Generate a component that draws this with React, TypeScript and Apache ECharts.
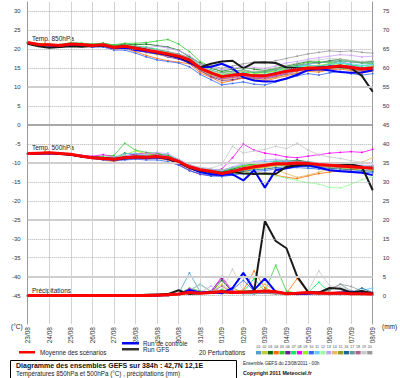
import React, { useEffect, useRef } from 'react';
import * as echarts from 'echarts';

const HOURS = [0, 12, 24, 36, 48, 60, 72, 84, 96, 108, 120, 132, 144, 156, 168, 180, 192, 204, 216, 228, 240, 252, 264, 276, 288, 300, 312, 324, 336, 348, 360, 372, 384];
const DATES = ['23/08', '24/08', '25/08', '26/08', '27/08', '28/08', '29/08', '30/08', '31/08', '01/09', '02/09', '03/09', '04/09', '05/09', '06/09', '07/09', '08/09'];
const LEFT_TICKS = [-45, -40, -35, -30, -25, -20, -15, -10, -5, 0, 5, 10, 15, 20, 25, 30];
const RIGHT_TICKS = [0, 5, 10, 15, 20, 25, 30, 35, 40, 45, 50, 55, 60, 65, 70, 75];
const DOTTED_LINES = [30, 25, 20, 15, 5, -5, -15, -20, -30, -35, -45];
const SOLID_LINES = [10, -10, -25, -40];
const DARK_LINES = [0];
const PERT_LABELS = ['01', '02', '03', '04', '05', '06', '07', '08', '09', '10', '11', '12', '13', '14', '15', '16', '17', '18', '19', '20'];
const PERT_COLORS = ['#4f9fc8', '#c8c830', '#0a6a0a', '#ff6a00', '#33cc33', '#6a1a90', '#00ee66', '#ff00ff', '#99ee22', '#3366ff', '#66ccff', '#99ff99', '#c8a0ff', '#e8b860', '#9a9a20', '#10689a', '#669999', '#b06090', '#c8c8c8', '#999999'];

// Temperature 850 hPa (°C)
const MEAN_850 = [21.8, 21.3, 21.2, 21.0, 21.4, 21.3, 21.0, 21.2, 20.5, 20.8, 20.3, 19.8, 19.3, 18.8, 18.2, 17.2, 15.0, 13.8, 12.8, 13.2, 13.4, 13.0, 13.0, 13.6, 14.2, 14.6, 15.1, 15.0, 15.3, 15.6, 15.2, 14.8, 15.1];
const GFS_850 = [21.5, 20.8, 20.4, 20.6, 20.8, 20.7, 20.9, 21.0, 20.6, 20.8, 20.4, 19.9, 19.2, 18.6, 18.0, 16.8, 15.3, 16.2, 16.8, 17.0, 15.0, 16.5, 16.6, 16.4, 15.2, 15.0, 15.0, 15.2, 15.4, 15.3, 15.0, 13.0, 8.8];
const CTRL_850 = [21.6, 21.2, 21.0, 20.9, 21.2, 21.1, 20.8, 21.0, 20.3, 20.4, 19.8, 19.5, 19.0, 18.5, 17.8, 16.5, 15.2, 15.4, 16.2, 15.0, 12.6, 11.8, 11.5, 11.6, 12.3, 13.3, 14.5, 14.8, 14.4, 14.0, 13.8, 13.9, 14.5];
const P850_01 = [21.8, 21.4, 21.0, 21.2, 21.6, 21.0, 20.8, 21.4, 20.2, 21.0, 20.6, 20.4, 19.8, 19.0, 18.8, 17.6, 15.8, 14.2, 13.0, 14.0, 14.6, 13.8, 12.6, 13.2, 14.8, 15.6, 16.0, 15.4, 16.2, 16.8, 16.0, 15.2, 15.6];
const P850_02 = [21.7, 21.2, 21.4, 20.8, 21.2, 21.6, 21.2, 20.8, 20.8, 21.2, 20.0, 19.2, 18.6, 18.4, 17.6, 16.8, 14.2, 13.2, 12.4, 12.8, 13.0, 12.2, 12.6, 13.8, 14.0, 14.2, 15.4, 15.8, 15.0, 15.2, 14.6, 14.2, 14.8];
const P850_03 = [21.9, 21.3, 21.1, 21.3, 21.5, 21.4, 21.3, 21.6, 21.0, 21.4, 21.2, 21.4, 21.0, 20.6, 19.8, 18.0, 16.4, 15.0, 14.2, 14.8, 15.2, 14.8, 14.4, 15.0, 15.6, 16.2, 16.8, 16.4, 17.0, 17.4, 17.0, 16.6, 16.8];
const P850_04 = [21.8, 21.0, 20.9, 20.7, 21.0, 20.9, 20.6, 20.8, 20.0, 20.2, 19.4, 18.4, 17.6, 17.0, 16.6, 16.2, 13.8, 12.6, 11.2, 11.8, 12.4, 12.0, 11.6, 12.4, 13.0, 13.8, 14.2, 14.0, 14.6, 14.8, 14.4, 13.8, 14.2];
const P850_05 = [21.8, 21.5, 21.4, 21.2, 21.8, 21.6, 21.4, 21.6, 21.2, 21.6, 21.6, 21.8, 22.2, 22.6, 21.4, 19.4, 16.8, 15.4, 14.0, 14.2, 14.6, 14.0, 14.2, 14.8, 15.4, 15.8, 16.6, 16.8, 16.4, 17.0, 16.8, 16.4, 16.2];
const P850_06 = [21.7, 21.2, 21.0, 20.6, 21.2, 21.2, 20.7, 20.9, 20.1, 20.4, 19.8, 19.2, 18.8, 18.0, 17.4, 16.4, 14.4, 12.8, 11.8, 12.0, 12.6, 12.4, 12.0, 12.8, 13.4, 13.6, 14.6, 14.4, 15.0, 15.4, 14.8, 14.4, 14.6];
const P850_07 = [21.8, 21.4, 21.3, 21.1, 21.6, 21.6, 21.2, 21.4, 20.6, 21.0, 20.8, 20.6, 20.0, 19.4, 18.6, 17.8, 15.6, 14.6, 13.6, 13.4, 13.8, 14.0, 13.8, 14.4, 15.0, 15.4, 15.8, 15.6, 16.0, 16.4, 15.8, 15.6, 16.0];
const P850_08 = [21.8, 21.2, 21.2, 21.0, 21.2, 21.0, 20.8, 21.0, 20.4, 20.6, 20.2, 19.4, 19.0, 18.6, 18.0, 17.0, 14.8, 13.6, 12.2, 12.6, 13.0, 12.8, 12.4, 13.0, 13.8, 14.6, 15.0, 15.2, 15.6, 15.8, 15.6, 15.0, 15.4];
const P850_09 = [21.9, 21.5, 21.3, 21.2, 21.4, 21.5, 21.1, 21.3, 20.8, 21.0, 20.6, 20.2, 19.6, 19.2, 18.4, 17.4, 15.4, 14.0, 13.4, 13.8, 14.2, 13.6, 13.8, 14.2, 14.8, 15.0, 15.6, 15.8, 16.2, 16.0, 15.4, 15.0, 15.6];
const P850_10 = [21.8, 21.3, 21.0, 20.8, 21.2, 21.0, 20.6, 20.6, 19.8, 19.8, 19.0, 18.0, 17.2, 16.8, 16.4, 15.4, 13.4, 12.0, 10.6, 11.0, 11.4, 10.8, 10.6, 11.4, 12.2, 13.0, 13.6, 13.2, 13.8, 14.2, 13.6, 13.2, 13.6];
const P850_11 = [21.8, 21.4, 21.2, 21.1, 21.5, 21.3, 21.1, 21.3, 20.6, 20.8, 20.4, 20.0, 19.4, 19.0, 18.4, 17.4, 15.2, 13.8, 13.0, 13.4, 13.8, 13.2, 13.4, 14.0, 14.6, 15.2, 15.8, 15.6, 16.0, 16.4, 16.2, 15.8, 16.0];
const P850_12 = [21.7, 21.3, 21.2, 21.0, 21.3, 21.2, 21.0, 21.1, 20.4, 20.6, 20.2, 19.8, 19.2, 18.6, 18.0, 17.0, 14.6, 13.2, 12.6, 13.0, 13.2, 12.8, 13.2, 13.4, 13.8, 14.4, 14.8, 14.8, 15.2, 15.0, 14.8, 14.6, 14.4];
const P850_13 = [21.8, 21.3, 21.1, 21.0, 21.3, 21.3, 21.0, 21.2, 20.6, 20.9, 20.6, 20.4, 20.8, 20.4, 19.6, 18.4, 16.2, 15.2, 14.6, 15.0, 15.6, 15.2, 15.0, 15.6, 16.4, 16.8, 17.4, 17.8, 18.2, 18.6, 18.4, 18.0, 18.2];
const P850_14 = [21.8, 21.2, 21.1, 20.9, 21.3, 21.2, 20.9, 21.0, 20.3, 20.6, 20.0, 19.4, 18.8, 18.2, 17.8, 16.8, 14.6, 13.4, 12.0, 12.4, 12.8, 12.2, 12.0, 12.6, 13.2, 13.8, 14.4, 14.2, 14.8, 15.2, 14.6, 14.2, 14.8];
const P850_15 = [21.8, 21.3, 21.2, 21.0, 21.4, 21.2, 21.0, 21.2, 20.6, 20.9, 20.4, 19.6, 19.0, 18.6, 18.0, 17.0, 14.8, 13.6, 12.6, 13.0, 13.4, 13.0, 12.8, 13.4, 14.0, 14.4, 15.0, 14.8, 15.2, 15.4, 15.0, 14.6, 14.8];
const P850_16 = [21.8, 21.3, 21.1, 21.0, 21.4, 21.3, 21.0, 21.2, 20.5, 20.8, 20.4, 19.8, 19.4, 18.8, 18.2, 17.2, 15.0, 13.8, 12.8, 13.2, 13.6, 13.2, 13.2, 13.8, 14.4, 14.8, 15.2, 15.2, 15.6, 15.8, 15.4, 15.0, 15.2];
const P850_17 = [21.8, 21.4, 21.2, 21.1, 21.4, 21.3, 21.1, 21.2, 20.6, 20.8, 20.2, 19.6, 19.2, 18.8, 18.4, 17.4, 15.6, 14.4, 13.8, 14.2, 14.4, 14.0, 14.0, 14.6, 15.2, 15.8, 16.2, 16.4, 16.8, 17.0, 16.6, 16.4, 16.6];
const P850_18 = [21.8, 21.3, 21.2, 21.0, 21.3, 21.2, 21.0, 21.1, 20.4, 20.7, 20.2, 19.6, 19.0, 18.4, 17.8, 16.8, 14.4, 13.0, 12.2, 12.6, 12.8, 12.4, 12.4, 13.0, 13.6, 14.2, 14.6, 14.4, 14.8, 15.2, 14.8, 14.2, 14.6];
const P850_19 = [21.8, 21.3, 21.1, 21.0, 21.4, 21.3, 21.0, 21.2, 20.6, 20.8, 20.4, 20.0, 19.6, 19.0, 18.6, 17.6, 15.6, 14.4, 13.6, 14.0, 14.4, 14.2, 14.6, 15.2, 15.8, 16.4, 17.0, 17.2, 17.6, 17.4, 17.0, 16.8, 17.0];
const P850_20 = [21.8, 21.4, 21.3, 21.2, 21.5, 21.4, 21.2, 21.4, 20.8, 21.1, 20.8, 20.4, 19.8, 19.4, 18.8, 17.8, 16.2, 15.6, 15.0, 15.6, 16.2, 16.6, 16.4, 17.0, 17.6, 18.2, 18.8, 19.2, 19.6, 19.4, 19.6, 19.2, 19.0];
const PERT_850 = [P850_01, P850_02, P850_03, P850_04, P850_05, P850_06, P850_07, P850_08, P850_09, P850_10, P850_11, P850_12, P850_13, P850_14, P850_15, P850_16, P850_17, P850_18, P850_19, P850_20];

// Temperature 500 hPa (°C)
const MEAN_500 = [-7.5, -7.4, -7.3, -7.5, -7.7, -8.2, -8.6, -8.8, -9.0, -8.6, -8.4, -8.5, -8.3, -8.6, -9.6, -11.0, -11.8, -12.2, -12.8, -12.2, -11.5, -11.0, -10.6, -10.2, -10.2, -10.0, -10.1, -10.4, -10.6, -10.8, -11.0, -11.2, -11.3];
const GFS_500 = [-7.5, -7.4, -7.3, -7.6, -7.8, -8.2, -8.5, -8.7, -8.9, -8.5, -8.3, -8.4, -8.3, -8.8, -9.8, -11.2, -12.0, -12.4, -12.6, -12.4, -12.8, -12.9, -12.8, -12.9, -11.0, -10.6, -10.4, -10.2, -10.0, -10.2, -10.4, -11.0, -17.2];
const CTRL_500 = [-7.5, -7.5, -7.4, -7.5, -7.8, -8.3, -8.7, -8.8, -9.1, -8.8, -8.5, -8.6, -8.5, -8.9, -9.8, -11.2, -12.4, -13.0, -13.2, -13.0, -14.6, -11.9, -16.5, -11.9, -11.4, -10.8, -10.6, -11.2, -11.9, -12.2, -12.4, -12.6, -13.2];
const P500_01 = [-7.5, -7.4, -7.2, -7.4, -7.6, -8.0, -8.4, -8.6, -8.8, -8.2, -8.0, -8.2, -7.8, -8.4, -9.4, -10.8, -11.6, -12.0, -12.4, -11.8, -11.0, -10.4, -10.0, -9.6, -9.8, -9.4, -9.6, -10.0, -10.2, -10.4, -10.6, -10.8, -11.0];
const P500_02 = [-7.5, -7.6, -7.5, -7.6, -7.8, -8.4, -8.8, -9.0, -9.2, -8.8, -8.6, -8.8, -8.6, -8.8, -9.8, -11.2, -12.2, -12.8, -13.2, -12.8, -12.0, -11.6, -11.2, -10.8, -10.6, -10.6, -10.8, -11.0, -11.2, -11.4, -11.6, -11.8, -12.0];
const P500_03 = [-7.5, -7.5, -7.3, -7.5, -7.6, -8.0, -8.6, -8.6, -8.8, -7.4, -7.8, -8.0, -7.6, -8.0, -9.2, -10.6, -11.4, -11.8, -12.2, -11.6, -10.8, -10.2, -9.8, -10.0, -9.6, -9.2, -9.8, -10.2, -10.4, -10.2, -10.6, -11.0, -10.8];
const P500_04 = [-7.5, -7.5, -7.4, -7.6, -7.9, -8.4, -8.8, -9.2, -9.6, -9.0, -8.8, -9.0, -8.8, -9.2, -10.2, -11.6, -12.4, -12.6, -13.0, -12.6, -12.2, -12.6, -12.8, -13.2, -13.8, -14.1, -13.4, -12.8, -12.4, -12.0, -11.8, -11.4, -11.6];
const P500_05 = [-7.5, -7.4, -7.4, -7.5, -7.6, -8.1, -8.4, -8.2, -8.0, -4.8, -6.6, -7.2, -7.4, -8.0, -9.2, -10.6, -11.6, -12.0, -12.2, -11.4, -10.6, -10.4, -10.0, -9.6, -9.2, -9.6, -10.0, -10.4, -10.2, -10.6, -10.8, -11.2, -11.4];
const P500_06 = [-7.5, -7.6, -7.5, -7.6, -7.8, -8.3, -8.6, -8.9, -9.2, -9.0, -8.8, -8.8, -8.6, -9.0, -10.4, -12.0, -13.0, -13.4, -13.2, -12.4, -11.8, -11.2, -10.8, -10.4, -10.2, -10.2, -10.4, -10.8, -10.8, -11.0, -11.2, -11.4, -11.6];
const P500_07 = [-7.5, -7.5, -7.4, -7.5, -7.7, -8.2, -8.6, -8.8, -8.8, -8.4, -8.2, -8.4, -8.2, -8.8, -9.6, -11.0, -11.8, -12.2, -12.6, -12.0, -11.4, -10.8, -10.4, -10.0, -10.2, -10.0, -10.2, -10.6, -10.6, -10.8, -11.0, -11.2, -11.2];
const P500_08 = [-7.5, -7.5, -7.3, -7.4, -7.6, -8.0, -8.2, -7.8, -8.4, -8.2, -7.6, -7.4, -7.8, -8.4, -9.4, -10.8, -11.8, -12.0, -11.6, -8.6, -5.0, -6.6, -7.4, -7.8, -8.4, -8.6, -8.2, -7.8, -7.4, -7.2, -7.0, -7.2, -6.4];
const P500_09 = [-7.5, -7.4, -7.3, -7.4, -7.6, -8.1, -8.5, -8.6, -8.4, -7.8, -6.8, -7.6, -8.0, -8.6, -9.6, -11.0, -11.6, -11.8, -11.8, -11.2, -10.8, -10.6, -10.2, -9.8, -10.0, -9.8, -9.8, -10.2, -10.4, -10.6, -10.6, -10.8, -11.0];
const P500_10 = [-7.5, -7.6, -7.6, -7.7, -7.9, -8.4, -8.8, -9.2, -9.4, -9.2, -9.0, -9.2, -9.2, -9.6, -10.6, -12.0, -12.8, -13.4, -13.6, -13.2, -12.8, -12.2, -12.0, -11.6, -11.4, -11.2, -11.4, -11.6, -11.8, -12.0, -12.2, -12.4, -12.6];
const P500_11 = [-7.5, -7.5, -7.4, -7.5, -7.7, -8.2, -8.5, -8.6, -8.4, -7.6, -7.4, -8.0, -8.4, -7.4, -9.6, -10.8, -11.4, -11.6, -12.0, -11.2, -10.4, -9.8, -9.6, -9.4, -9.6, -10.0, -10.4, -10.4, -10.2, -10.4, -10.6, -10.8, -11.0];
const P500_12 = [-7.5, -7.5, -7.4, -7.6, -7.8, -8.3, -8.6, -8.8, -9.0, -8.6, -8.4, -8.6, -8.4, -8.8, -9.8, -11.2, -12.0, -12.6, -13.0, -12.8, -12.6, -12.4, -13.0, -13.4, -14.0, -14.6, -15.2, -15.6, -16.4, -16.6, -15.6, -14.4, -13.6];
const P500_13 = [-7.5, -7.4, -7.3, -7.5, -7.7, -8.1, -8.4, -8.6, -8.6, -8.2, -8.0, -7.6, -7.2, -7.6, -9.0, -10.4, -11.2, -11.6, -12.0, -11.0, -10.2, -9.6, -9.2, -9.0, -9.4, -9.6, -9.8, -10.0, -10.2, -10.2, -10.4, -10.6, -10.6];
const P500_14 = [-7.5, -7.5, -7.4, -7.5, -7.8, -8.2, -8.6, -8.8, -9.0, -8.8, -8.6, -8.4, -8.2, -8.6, -9.8, -11.4, -12.2, -12.6, -12.8, -12.4, -12.0, -11.4, -11.0, -11.8, -12.8, -13.8, -13.2, -12.4, -11.6, -11.0, -10.6, -9.8, -8.6];
const P500_15 = [-7.5, -7.5, -7.4, -7.5, -7.7, -8.2, -8.6, -8.8, -9.0, -8.6, -8.4, -8.6, -8.4, -8.8, -9.8, -11.2, -12.0, -12.4, -12.8, -12.4, -11.8, -11.4, -11.0, -10.6, -10.6, -10.4, -10.6, -10.8, -11.0, -11.2, -11.4, -11.4, -11.6];
const P500_16 = [-7.5, -7.6, -7.5, -7.6, -7.8, -8.3, -8.7, -8.9, -9.2, -8.9, -8.6, -8.8, -8.6, -9.0, -10.0, -11.4, -12.4, -12.8, -12.8, -12.6, -12.2, -11.8, -11.6, -11.2, -11.0, -10.8, -11.0, -11.2, -11.4, -11.6, -11.8, -12.0, -12.2];
const P500_17 = [-7.5, -7.4, -7.4, -7.5, -7.7, -8.2, -8.5, -8.7, -8.8, -8.4, -8.2, -8.4, -8.4, -8.8, -9.6, -11.0, -11.8, -12.2, -12.4, -12.0, -11.4, -11.0, -10.8, -10.4, -10.4, -10.2, -10.2, -10.6, -10.8, -11.0, -11.0, -11.2, -11.4];
const P500_18 = [-7.5, -7.5, -7.4, -7.5, -7.7, -8.2, -8.5, -8.7, -8.9, -8.5, -8.3, -8.5, -8.3, -8.7, -9.7, -11.1, -11.9, -12.3, -12.6, -12.2, -11.6, -11.0, -10.8, -10.4, -10.2, -10.2, -10.4, -10.6, -10.8, -11.0, -11.2, -11.2, -11.4];
const P500_19 = [-7.5, -7.5, -7.4, -7.5, -7.7, -8.1, -8.4, -8.6, -8.6, -8.2, -8.0, -8.2, -8.0, -8.4, -9.4, -10.6, -11.2, -11.4, -10.4, -5.6, -7.4, -6.8, -6.4, -5.6, -6.2, -4.8, -6.6, -7.8, -8.4, -8.8, -9.4, -9.8, -10.0];
const P500_20 = [-7.5, -7.5, -7.4, -7.6, -7.8, -8.2, -8.6, -8.8, -9.0, -8.6, -8.4, -8.6, -8.4, -8.8, -9.8, -11.0, -11.8, -12.2, -12.6, -12.2, -11.6, -11.2, -10.8, -10.4, -10.4, -10.4, -10.6, -10.8, -11.0, -11.2, -11.2, -11.4, -11.4];
const PERT_500 = [P500_01, P500_02, P500_03, P500_04, P500_05, P500_06, P500_07, P500_08, P500_09, P500_10, P500_11, P500_12, P500_13, P500_14, P500_15, P500_16, P500_17, P500_18, P500_19, P500_20];

// Precipitation (mm)
const MEAN_PR = [0, 0, 0, 0, 0, 0, 0, 0, 0, 0, 0, 0, 0.1, 0.2, 0.4, 0.8, 0.6, 0.8, 1.1, 0.8, 0.9, 1.0, 1.2, 1.0, 0.5, 0.6, 0.8, 0.7, 0.6, 0.7, 0.5, 0.5, 0.4];
const GFS_PR = [0, 0, 0, 0, 0, 0, 0, 0, 0, 0, 0, 0.2, 0.3, 0.4, 1.4, 0.4, 0.6, 0.8, 1.0, 0.8, 1.0, 1.2, 19.7, 14.4, 12.5, 5.0, 1.0, 0.8, 2.0, 1.8, 0.8, 1.2, 0.6];
const CTRL_PR = [0, 0, 0, 0, 0, 0, 0, 0, 0, 0, 0, 0, 0, 0.2, 0.4, 1.5, 0.8, 1.0, 0.6, 2.0, 6.0, 1.5, 4.5, 1.0, 0.6, 0.4, 0.5, 0.8, 0.6, 0.8, 1.0, 0.8, 0.6];
const PR_01 = [0, 0, 0, 0, 0, 0, 0, 0, 0, 0, 0, 0, 0, 0.2, 0.5, 6.0, 1.0, 0.6, 0.8, 0.6, 0.5, 0.4, 0.8, 0.6, 0.3, 0.4, 0.5, 0.3, 0.4, 0.3, 0.4, 0.3, 0.2];
const PR_02 = [0, 0, 0, 0, 0, 0, 0, 0, 0, 0, 0, 0, 0, 0, 0.3, 1.2, 0.8, 1.0, 3.0, 0.8, 0.6, 0.8, 1.0, 0.6, 0.4, 0.6, 0.8, 0.4, 0.6, 0.8, 0.5, 0.4, 0.3];
const PR_03 = [0, 0, 0, 0, 0, 0, 0, 0, 0, 0, 0, 0, 0, 0, 0.2, 0.8, 0.6, 0.8, 4.0, 1.0, 0.8, 1.2, 1.4, 0.8, 0.5, 0.4, 0.6, 0.5, 0.3, 0.4, 0.6, 0.5, 0.4];
const PR_04 = [0, 0, 0, 0, 0, 0, 0, 0, 0, 0, 0, 0, 0, 0.1, 0.4, 1.6, 0.8, 0.6, 0.8, 1.2, 1.4, 6.5, 2.0, 0.8, 0.6, 4.5, 0.8, 0.6, 0.4, 0.5, 0.6, 0.4, 0.3];
const PR_05 = [0, 0, 0, 0, 0, 0, 0, 0, 0, 0, 0, 0, 0, 0, 0.3, 2.0, 1.2, 0.8, 1.6, 1.0, 0.8, 1.2, 1.0, 8.0, 1.2, 0.6, 0.5, 0.8, 0.6, 0.4, 0.5, 0.6, 0.4];
const PR_06 = [0, 0, 0, 0, 0, 0, 0, 0, 0, 0, 0, 0, 0, 0, 0.2, 1.0, 0.6, 1.2, 4.5, 0.8, 0.6, 0.8, 1.0, 0.6, 0.4, 0.3, 0.4, 0.6, 0.4, 0.3, 0.4, 0.3, 0.2];
const PR_07 = [0, 0, 0, 0, 0, 0, 0, 0, 0, 0, 0, 0, 0, 0, 0.3, 1.4, 0.8, 0.6, 1.2, 0.8, 1.0, 4.5, 1.2, 0.8, 0.6, 0.5, 0.8, 3.5, 0.8, 0.6, 0.5, 0.4, 0.3];
const PR_08 = [0, 0, 0, 0, 0, 0, 0, 0, 0, 0, 0, 0, 0, 0, 0.2, 1.8, 0.8, 1.0, 5.0, 1.2, 0.8, 0.6, 0.8, 0.6, 0.4, 0.5, 0.6, 0.4, 0.3, 0.4, 0.5, 0.3, 0.2];
const PR_09 = [0, 0, 0, 0, 0, 0, 0, 0, 0, 0, 0, 0, 0, 0, 0.2, 1.2, 3.0, 1.0, 0.8, 0.6, 0.8, 1.0, 0.8, 0.6, 0.4, 0.6, 0.5, 0.4, 0.6, 0.5, 0.4, 0.3, 0.2];
const PR_10 = [0, 0, 0, 0, 0, 0, 0, 0, 0, 0, 0, 0, 0, 0, 0.3, 1.0, 0.8, 0.6, 1.2, 1.6, 4.0, 1.2, 0.8, 1.0, 0.6, 0.4, 0.5, 0.6, 0.4, 0.5, 0.6, 0.4, 0.3];
const PR_11 = [0, 0, 0, 0, 0, 0, 0, 0, 0, 0, 0, 0, 0, 0, 0.2, 1.4, 3.0, 1.2, 0.8, 0.6, 0.8, 0.6, 1.0, 0.8, 0.5, 0.4, 0.6, 0.4, 0.5, 0.8, 1.0, 1.4, 2.0];
const PR_12 = [0, 0, 0, 0, 0, 0, 0, 0, 0, 0, 0, 0, 0, 0, 0.1, 0.6, 0.4, 0.6, 0.8, 0.6, 0.8, 1.0, 0.6, 0.4, 0.3, 0.4, 0.6, 0.4, 0.3, 0.4, 0.3, 0.2, 0.2];
const PR_13 = [0, 0, 0, 0, 0, 0, 0, 0, 0, 0, 0, 0, 0, 0, 0.2, 0.8, 0.8, 2.5, 1.0, 0.8, 0.6, 0.8, 1.0, 0.6, 0.4, 0.5, 0.4, 0.3, 0.4, 0.6, 0.4, 0.3, 0.2];
const PR_14 = [0, 0, 0, 0, 0, 0, 0, 0, 0, 0, 0, 0, 0, 0, 0.3, 1.0, 0.6, 0.8, 1.0, 0.8, 0.6, 0.8, 3.0, 1.2, 0.6, 0.8, 0.6, 0.4, 0.5, 0.4, 0.6, 0.4, 0.3];
const PR_15 = [0, 0, 0, 0, 0, 0, 0, 0, 0, 0, 0, 0, 0, 0, 0.2, 0.6, 0.8, 0.6, 0.8, 2.0, 0.8, 0.6, 0.8, 0.6, 0.4, 0.5, 0.6, 0.4, 0.5, 0.4, 0.3, 0.4, 0.3];
const PR_16 = [0, 0, 0, 0, 0, 0, 0, 0, 0, 0, 0, 0, 0, 0, 0.2, 0.8, 0.6, 0.8, 0.6, 0.8, 1.0, 0.8, 0.6, 0.8, 0.5, 0.4, 0.6, 0.5, 0.4, 0.6, 0.8, 2.0, 0.8];
const PR_17 = [0, 0, 0, 0, 0, 0, 0, 0, 0, 0, 0, 0, 0, 0, 0.2, 1.0, 0.8, 0.6, 0.8, 1.0, 0.8, 0.6, 0.8, 1.0, 0.6, 0.5, 0.6, 0.8, 1.4, 3.0, 1.2, 0.6, 0.4];
const PR_18 = [0, 0, 0, 0, 0, 0, 0, 0, 0, 0, 0, 0, 0, 0, 0.2, 0.8, 0.6, 0.8, 2.5, 0.8, 0.6, 0.8, 0.6, 0.4, 0.5, 0.4, 0.6, 0.4, 0.3, 0.4, 0.3, 0.4, 0.3];
const PR_19 = [0, 0, 0, 0, 0, 0, 0, 0, 0, 0, 0, 0, 0, 0, 0.3, 1.4, 2.8, 1.2, 1.0, 7.0, 1.2, 0.8, 1.0, 0.8, 0.6, 0.8, 1.2, 6.5, 2.6, 2.2, 1.4, 1.0, 0.6];
const PR_20 = [0, 0, 0, 0, 0, 0, 0, 0, 0, 0, 0, 0, 0, 0, 0.2, 1.0, 0.8, 0.6, 0.8, 1.0, 0.8, 1.2, 1.0, 0.8, 0.6, 0.8, 0.6, 0.8, 1.6, 3.0, 2.4, 1.2, 0.6];
const PERT_PR = [PR_01, PR_02, PR_03, PR_04, PR_05, PR_06, PR_07, PR_08, PR_09, PR_10, PR_11, PR_12, PR_13, PR_14, PR_15, PR_16, PR_17, PR_18, PR_19, PR_20];

const FONT = '"Liberation Sans", Arial, sans-serif';

export default function App() {
  const ref = useRef<HTMLDivElement>(null);

  useEffect(() => {
    if (!ref.current) return;
    const chart = echarts.init(ref.current, null, { renderer: 'svg' });
    const pair = (vals: number[]) => HOURS.map((h, i) => [h, vals[i]]);

    const gridData: any[] = [];
    DOTTED_LINES.forEach((v) => gridData.push({ yAxis: v, lineStyle: { type: 'dotted', color: '#b0b0b0', width: 1 } }));
    SOLID_LINES.forEach((v) => gridData.push({ yAxis: v, lineStyle: { type: 'solid', color: '#cfcfcf', width: 2 } }));
    DARK_LINES.forEach((v) => gridData.push({ yAxis: v, lineStyle: { type: 'solid', color: '#a8a8a8', width: 2 } }));

    const series: any[] = [
      {
        type: 'line',
        data: [],
        yAxisIndex: 0,
        z: 1,
        silent: true,
        markLine: { silent: true, symbol: ['none', 'none'], label: { show: false }, data: gridData },
      },
    ];

    const pert = (sets: number[][], axis: number) => {
      sets.forEach((vals, k) => {
        series.push({
          type: 'line',
          data: pair(vals),
          yAxisIndex: axis,
          z: 2,
          silent: true,
          symbol: 'rect',
          symbolSize: 1.6,
          showSymbol: true,
          lineStyle: { width: 0.8, color: PERT_COLORS[k] },
          itemStyle: { color: PERT_COLORS[k] },
        });
      });
    };
    const main = (vals: number[], axis: number, color: string, width: number, z: number) => {
      series.push({
        type: 'line',
        data: pair(vals),
        yAxisIndex: axis,
        z,
        silent: true,
        symbol: 'none',
        lineStyle: { width, color },
      });
    };

    pert(PERT_850, 0);
    pert(PERT_500, 0);
    pert(PERT_PR, 1);
    main(CTRL_850, 0, '#0000ff', 2, 3);
    main(CTRL_500, 0, '#0000ff', 2, 3);
    main(CTRL_PR, 1, '#0000ff', 2, 3);
    main(GFS_850, 0, '#1a1a1a', 2, 4);
    main(GFS_500, 0, '#1a1a1a', 2, 4);
    main(GFS_PR, 1, '#1a1a1a', 2, 4);
    main(MEAN_850, 0, '#ff0000', 3, 5);
    main(MEAN_500, 0, '#ff0000', 3, 5);
    main(MEAN_PR, 1, '#ff0000', 3, 5);

    const txt = (text: string, x: number, y: number, size: number, weight = 'normal', fill = '#222') => ({
      type: 'text',
      x,
      y,
      silent: true,
      style: { text, fontSize: size, fontFamily: FONT, fontWeight: weight, fill, align: 'left', verticalAlign: 'middle' },
    });

    const graphic: any[] = [
      txt('Temp. 850hPa', 32, 38, 6.5),
      txt('Temp. 500hPa', 32, 147, 6.5),
      txt('Précipitations', 32, 290, 6.5),
      txt('(°C)', 11, 326, 6.5),
      txt('(mm)', 382, 326, 6.5),
      { type: 'rect', shape: { x: 19, y: 351, width: 16, height: 2.5 }, style: { fill: '#ff0000' }, silent: true },
      txt('Moyenne des scénarios', 40, 352.5, 6.3),
      { type: 'rect', shape: { x: 122, y: 342, width: 17, height: 2.5 }, style: { fill: '#0000ff' }, silent: true },
      { type: 'rect', shape: { x: 122, y: 348, width: 17, height: 2.5 }, style: { fill: '#333333' }, silent: true },
      txt('Run de controle', 143, 343.5, 6.3),
      txt('Run GFS', 143, 349.5, 6.3),
      txt('20 Perturbations', 199, 352.5, 6.3),
      { type: 'rect', shape: { x: 10.5, y: 360.5, width: 226, height: 20 }, style: { fill: 'none', stroke: '#000', lineWidth: 1 }, silent: true },
      txt('Diagramme des ensembles GEFS sur 384h : 42,7N 12,1E', 16, 365.5, 7, 'bold', '#111'),
      txt('Températures 850hPa et 500hPa (°C) , précipitations (mm)', 16, 373.5, 6.3),
      txt('Ensemble GEFS du 23/08/2011 - 00h', 243, 363.5, 4.6),
      txt('Copyright 2011 Meteociel.fr', 243, 373, 5.3, 'bold', '#111'),
    ];
    PERT_LABELS.forEach((lab, k) => {
      const x = 256 + k * 5.85;
      graphic.push({
        type: 'text',
        x: x + 2.6,
        y: 346.5,
        silent: true,
        style: { text: lab, fontSize: 3.6, fontFamily: FONT, fill: '#444', align: 'center', verticalAlign: 'middle' },
      });
      graphic.push({ type: 'rect', shape: { x, y: 351, width: 5.2, height: 3.4 }, style: { fill: PERT_COLORS[k] }, silent: true });
    });

    const axisLabelBase = { fontSize: 6, fontFamily: FONT, color: '#333' };

    chart.setOption({
      animation: false,
      backgroundColor: '#ffffff',
      grid: { left: 27.7, right: 27.3, top: 2, bottom: 54, containLabel: false },
      xAxis: {
        type: 'value',
        min: 0,
        max: 384,
        interval: 24,
        axisLine: { show: true, lineStyle: { color: '#888', width: 1.5 } },
        axisTick: { show: false },
        splitLine: { show: true, lineStyle: { color: '#d2d2d2', width: 1 } },
        axisLabel: {
          ...axisLabelBase,
          fontSize: 6.5,
          rotate: 90,
          margin: 3,
          showMinLabel: true,
          showMaxLabel: true,
          formatter: (v: number) => DATES[Math.round(v / 24)] ?? '',
        },
      },
      yAxis: [
        {
          type: 'value',
          min: -52.5,
          max: 32.5,
          position: 'left',
          axisLine: { show: true, lineStyle: { color: '#999', width: 1 } },
          axisTick: { show: false },
          splitLine: { show: false },
          axisLabel: { ...axisLabelBase, margin: 7, customValues: LEFT_TICKS },
        },
        {
          type: 'value',
          min: -7.5,
          max: 77.5,
          position: 'right',
          axisLine: { show: true, lineStyle: { color: '#999', width: 1 } },
          axisTick: { show: false },
          splitLine: { show: false },
          axisLabel: { ...axisLabelBase, margin: 10, customValues: RIGHT_TICKS },
        },
      ],
      series,
      graphic,
    });

    return () => chart.dispose();
  }, []);

  return <div ref={ref} style={{ position: 'fixed', left: 0, top: 0, width: 400, height: 378, background: '#fff' }} />;
}
